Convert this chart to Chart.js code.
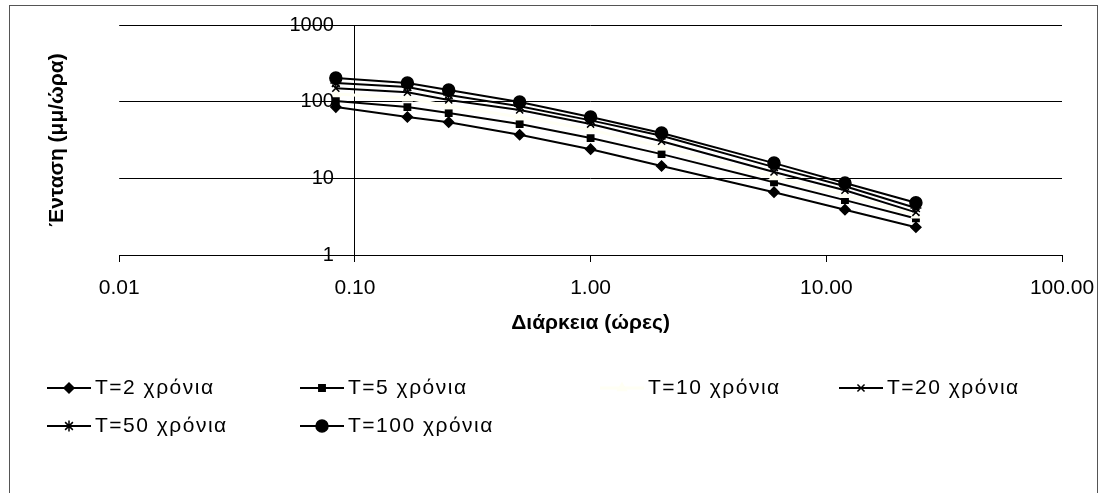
<!DOCTYPE html>
<html>
<head>
<meta charset="utf-8">
<script src="https://cdn.jsdelivr.net/npm/chart.js@4/dist/chart.umd.min.js"></script>
<style>
  html, body { margin: 0; padding: 0; background: #fff; }
  #wrap { position: relative; width: 1101px; height: 493px; overflow: hidden; }
  #frame { position: absolute; left: 9px; top: 5px; width: 1089px; height: 500px; border: 1px solid #555; box-sizing: border-box; }
  #idf { position: absolute; left: 0; top: 0; }
</style>
</head>
<body>
<div id="wrap">
  <div id="frame"></div>
  <canvas id="idf" width="1101" height="493"></canvas>
</div>
<script>
// durations in hours (5, 10, 15, 30 min, 1, 2, 6, 12, 24 h)
const durations = [0.083, 0.167, 0.25, 0.5, 1, 2, 6, 12, 24];

const seriesLabels = ["T=2 χρόνια", "T=5 χρόνια", "T=10 χρόνια", "T=20 χρόνια", "T=50 χρόνια", "T=100 χρόνια"];

// intensity (mm/h) per return period
const t2   = [85, 63, 54, 37, 24, 14.5, 6.6, 3.9, 2.3];
const t5   = [102, 85, 71, 51, 33.5, 20.7, 8.9, 5.2, 3.0];
const t10  = [126, 111, 88, 63, 43, 25.5, 10.4, 6.1, 3.3];
const t20  = [150, 133, 105, 78, 51, 30.5, 12.1, 7.0, 3.6];
const t50  = [175, 155, 122, 87, 57, 36, 14, 7.9, 4.1];
const t100 = [203, 175, 142, 99, 63, 39, 15.8, 8.7, 4.8];

const xTicks = [0.01, 0.1, 1, 10, 100];
const xTickLabels = ["0.01", "0.10", "1.00", "10.00", "100.00"];
const yTicks = [1, 10, 100, 1000];
const yTickLabels = ["1", "10", "100", "1000"];

const FONT = "'Liberation Sans', Arial, sans-serif";

const allSeries = [t2, t5, t10, t20, t50, t100];
const markers = ["rectRot", "rect", "triangle", "crossRot", "star", "circle"];
const colors = ["#000", "#000", "#fffff4", "#000", "#000", "#000"];
const sizes = [5, 4.5, 5, 5, 5.5, 6];

const datasets = allSeries.map((vals, i) => ({
    label: seriesLabels[i],
    data: vals.map((v, k) => ({ x: durations[k], y: v })),
    borderColor: colors[i],
    borderWidth: i === 2 ? 3 : 2,
    pointStyle: markers[i],
    pointRadius: sizes[i],
    pointBackgroundColor: colors[i],
    pointBorderColor: colors[i],
    pointBorderWidth: 1.5,
    tension: 0,
    order: allSeries.length - i   // later series drawn on top
}));

// y labels sit left of the axis line, which crosses at x = 0.1
const yLabels = {
    id: "yLabels",
    afterDraw(chart, args, opts) {
        const ctx = chart.ctx;
        const ys = chart.scales.y;
        const ax = chart.scales.x.getPixelForValue(0.1);
        ctx.save();
        ctx.font = opts.font;
        ctx.fillStyle = "#000";
        ctx.textAlign = "right";
        ctx.textBaseline = "middle";
        yTicks.forEach((v, i) => ctx.fillText(yTickLabels[i], ax - opts.offset, ys.getPixelForValue(v)));
        ctx.restore();
    }
};

// legend laid out in fixed columns, line sample + marker + label
const gridLegend = {
    id: "gridLegend",
    afterDraw(chart, args, opts) {
        const ctx = chart.ctx;
        ctx.save();
        ctx.font = opts.font;
        ctx.textBaseline = "middle";
        ctx.textAlign = "left";
        if ("letterSpacing" in ctx) ctx.letterSpacing = opts.letterSpacing;
        chart.data.datasets.forEach((ds, i) => {
            const n = opts.columns.length;
            const tx = opts.columns[i % n];
            const ty = opts.rows[Math.floor(i / n)];
            const x1 = tx - opts.gap;
            const x0 = x1 - opts.sampleWidth;
            ctx.strokeStyle = ds.borderColor;
            ctx.lineWidth = ds.borderWidth;
            ctx.beginPath();
            ctx.moveTo(x0, ty);
            ctx.lineTo(x1, ty);
            ctx.stroke();
            ctx.fillStyle = ds.pointBackgroundColor;
            ctx.strokeStyle = ds.pointBorderColor;
            ctx.lineWidth = ds.pointBorderWidth;
            Chart.helpers.drawPoint(ctx, {
                pointStyle: ds.pointStyle, radius: ds.pointRadius, rotation: 0, borderWidth: ds.pointBorderWidth
            }, (x0 + x1) / 2, ty);
            ctx.fillStyle = "#000";
            ctx.fillText(ds.label, tx, ty);
        });
        ctx.restore();
    }
};

new Chart(document.getElementById("idf"), {
    type: "line",
    data: { datasets: datasets },
    plugins: [yLabels, gridLegend],
    options: {
        responsive: false,
        animation: false,
        events: [],
        layout: { padding: { left: 0, top: 25, right: 39, bottom: 157 } },
        plugins: {
            legend: { display: false },
            tooltip: { enabled: false },
            title: {
                display: true,
                position: "left",
                fullSize: false,
                text: "Ένταση (μμ/ώρα)",
                color: "#000",
                font: { family: FONT, size: 21, weight: "bold" },
                padding: { top: 45, bottom: 49 }
            },
            yLabels: { font: "20px " + FONT, offset: 21 },
            gridLegend: {
                font: "21px " + FONT,
                letterSpacing: "1.5px",
                columns: [95, 348, 648, 887],
                rows: [388, 426],
                sampleWidth: 44,
                gap: 4
            }
        },
        scales: {
            x: {
                type: "logarithmic",
                min: 0.01,
                max: 100,
                afterBuildTicks: s => { s.ticks = xTicks.map(v => ({ value: v })); },
                afterFit: s => { s.height = 81; s.paddingLeft = 0; s.paddingRight = 0; },
                ticks: {
                    callback: (v, i) => xTickLabels[i],
                    color: "#000",
                    font: { family: FONT, size: 21 },
                    padding: 14,
                    maxRotation: 0,
                    autoSkip: false
                },
                grid: { drawOnChartArea: false, drawTicks: true, tickLength: 7, color: "#000", lineWidth: 1 },
                border: { display: true, color: "#000", width: 1 },
                title: {
                    display: true,
                    text: "Διάρκεια (ώρες)",
                    color: "#000",
                    font: { family: FONT, size: 21, weight: "bold" },
                    padding: { top: 12, bottom: 0 }
                }
            },
            y: {
                type: "logarithmic",
                min: 1,
                max: 1000,
                position: { x: 0.1 },
                afterBuildTicks: s => { s.ticks = yTicks.map(v => ({ value: v })); },
                ticks: { display: false },
                grid: { color: "#000", lineWidth: 1, drawTicks: true, tickLength: 6 },
                border: { display: true, color: "#000", width: 1 }
            }
        }
    }
});
</script>
</body>
</html>
